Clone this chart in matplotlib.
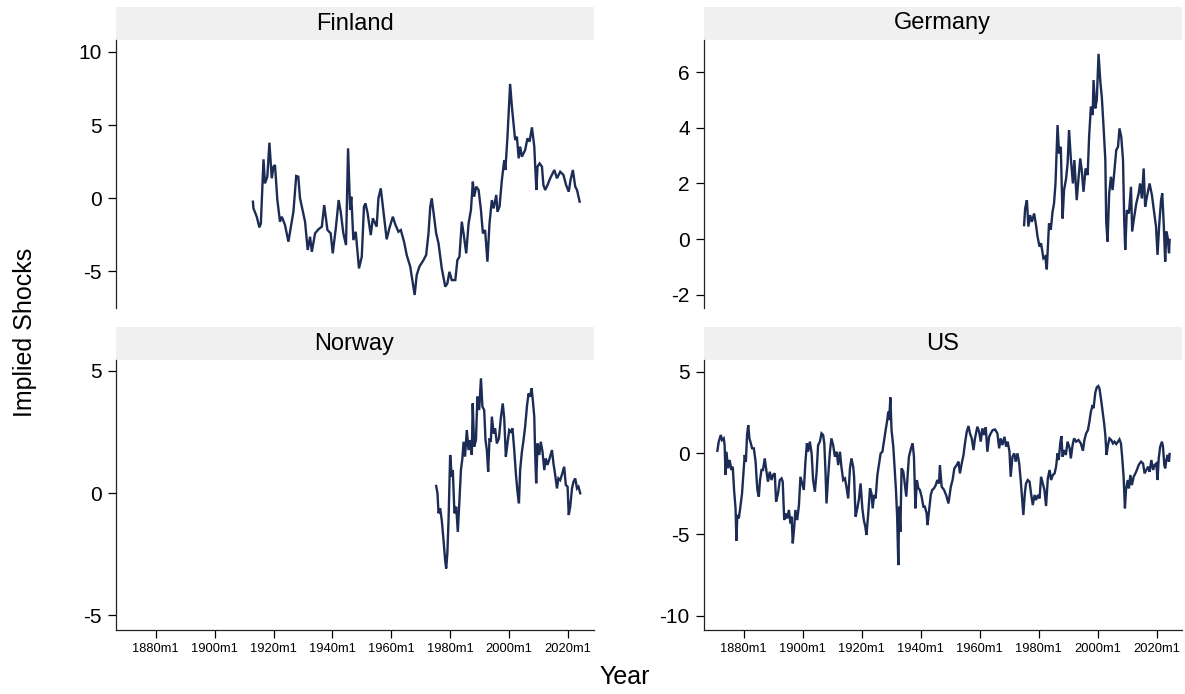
import matplotlib

matplotlib.use("Agg")
import matplotlib.pyplot as plt
from matplotlib.patches import Rectangle

plt.rcParams["font.family"] = ["Liberation Sans", "DejaVu Sans"]

LINE_COLOR = "#1c2c55"
STRIP_COLOR = "#f0f0f0"

# Implied shocks, (decimal year, value) per country.
FIN_YEAR = [
    1913.0, 1913.2, 1914.3, 1915.2, 1915.7, 1916.6, 1917.1, 1917.9, 1918.6, 1919.4,
    1920.0, 1920.5, 1921.3, 1922.2, 1922.8, 1923.9, 1925.05, 1926.75, 1927.7, 1928.4,
    1929.0, 1930.1, 1930.7, 1931.6, 1932.4, 1933.0, 1934.1, 1935.2, 1936.4, 1937.2,
    1938.3, 1939.4, 1940.1, 1941.2, 1942.1, 1942.8, 1943.7, 1944.6, 1945.3, 1946.0,
    1946.4, 1947.1, 1947.9, 1949.0, 1949.95, 1950.7, 1951.2, 1951.9, 1953.0, 1953.7,
    1955.0, 1955.6, 1956.4, 1957.3, 1958.4, 1959.3, 1960.5, 1961.4, 1962.4, 1963.2,
    1964.3, 1965.2, 1966.4, 1967.9, 1968.6, 1969.5, 1970.9, 1971.8, 1972.6, 1973.2,
    1973.7, 1974.5, 1975.2, 1976.0, 1977.1, 1978.3, 1979.0, 1979.7, 1980.5, 1981.7,
    1982.4, 1983.1, 1983.9, 1984.5, 1985.4, 1986.2, 1987.0, 1987.65, 1988.1, 1988.8,
    1989.6, 1990.4, 1991.05, 1991.8, 1992.6, 1993.3, 1994.1, 1994.7, 1995.6, 1996.0,
    1996.7, 1997.5, 1998.3, 1998.7, 1999.4, 2000.3, 2000.9, 2001.5, 2002.0, 2002.6,
    2003.2, 2003.7, 2004.3, 2005.4, 2006.2, 2006.9, 2007.7, 2008.5, 2009.2, 2009.6,
    2010.3, 2011.1, 2011.6, 2012.2, 2013.0, 2013.9, 2015.3, 2016.2, 2017.3, 2018.4,
    2019.3, 2020.2, 2020.8, 2021.6, 2022.4, 2023.0, 2023.9,
]
FIN_SHOCK = [
    -0.25, -0.71, -1.28, -2.01, -1.74, 2.65, 1.0, 1.46, 3.79, 1.35,
    2.15, 2.26, -0.14, -1.62, -1.28, -1.85, -2.99, -0.94, 1.51, 1.46,
    -0.02, -1.05, -1.62, -3.56, -2.65, -3.68, -2.42, -2.15, -1.96, -0.48,
    -2.19, -2.42, -3.79, -1.96, -0.14, -0.94, -2.42, -3.22, 3.4, -0.82,
    0.09, -2.88, -2.31, -4.82, -4.02, -0.59, -0.37, -1.0, -2.54, -1.39,
    -1.96, -0.02, 0.66, -0.94, -2.83, -2.08, -1.28, -1.85, -2.31, -2.19,
    -2.99, -3.9, -4.7, -6.64, -5.27, -4.7, -4.25, -3.9, -2.42, -0.59,
    -0.02, -1.28, -2.42, -3.1, -4.82, -6.07, -5.85, -5.05, -5.62, -5.62,
    -4.25, -4.02, -1.62, -2.42, -3.79, -1.74, -0.82, 1.12, 0.09, 0.78,
    0.55, -0.82, -2.42, -2.19, -4.36, -1.74, -0.14, -0.71, 0.21, -0.94,
    -0.59, 1.23, 2.6, 1.92, 4.2, 7.81, 6.26, 5.0, 3.97, 4.2,
    2.72, 3.52, 2.83, 3.29, 4.09, 3.86, 4.84, 3.52, 0.55, 2.15,
    2.37, 2.15, 0.89, 0.55, 0.89, 1.35, 1.92, 1.35, 1.8, 1.58,
    0.89, 0.43, 1.23, 1.92, 0.78, 0.55, -0.25,
]

GER_YEAR = [
    1975.05, 1975.4, 1976.0, 1976.5, 1977.1, 1977.7, 1978.45, 1979.1, 1979.6, 1980.3,
    1980.8, 1981.6, 1982.2, 1982.75, 1983.5, 1984.1, 1984.7, 1985.2, 1985.7, 1986.4,
    1986.9, 1987.5, 1988.1, 1988.6, 1989.3, 1989.8, 1990.3, 1990.9, 1991.6, 1992.1,
    1992.9, 1993.5, 1994.1, 1994.6, 1995.2, 1995.9, 1996.6, 1997.1, 1997.7, 1998.3,
    1998.6, 1999.2, 1999.7, 2000.3, 2000.9, 2001.4, 2002.0, 2002.6, 2002.9, 2003.35,
    2003.9, 2004.5, 2005.05, 2005.6, 2006.3, 2006.9, 2007.4, 2008.0, 2008.6, 2009.0,
    2009.35, 2009.9, 2010.6, 2011.3, 2011.7, 2012.4, 2013.1, 2013.9, 2014.4, 2015.0,
    2015.6, 2016.1, 2016.7, 2017.6, 2018.4, 2019.2, 2019.8, 2020.3, 2020.9, 2021.5,
    2021.9, 2022.4, 2022.9, 2023.3, 2023.7, 2024.2, 2024.4,
]
GER_SHOCK = [
    0.5, 1.1, 1.4, 0.45, 0.86, 0.62, 0.92, 0.5, 0.09, -0.27,
    -0.15, -0.69, -0.63, -1.09, 0.56, 0.33, 0.98, 1.28, 2.0, 4.1,
    3.08, 3.32, 0.74, 1.76, 2.18, 2.72, 3.92, 2.9, 2.0, 2.84,
    1.4, 2.18, 2.9, 2.48, 1.7, 2.54, 2.3, 3.68, 4.76, 4.46,
    5.72, 4.7, 5.0, 6.66, 5.66, 5.12, 4.04, 2.84, 0.62, -0.09,
    1.64, 2.24, 1.76, 2.36, 3.2, 3.32, 3.98, 3.68, 2.84, 0.68,
    -0.39, 1.04, 0.92, 1.88, 0.27, 0.8, 1.28, 1.64, 2.0, 1.46,
    2.54, 1.16, 1.52, 2.0, 1.58, 0.92, 0.44, -0.57, 0.56, 1.4,
    1.64, 0.56, -0.81, 0.27, 0.09, -0.51, -0.03,
]

NOR_YEAR = [
    1975.2, 1975.65, 1976.0, 1976.55, 1977.1, 1977.7, 1978.25, 1978.6, 1979.0, 1979.4,
    1979.95, 1980.5, 1980.85, 1981.4, 1982.0, 1982.55, 1983.1, 1983.6, 1984.1, 1984.5,
    1985.0, 1985.6, 1986.2, 1986.7, 1987.3, 1987.6, 1988.1, 1988.7, 1989.2, 1989.8,
    1990.4, 1990.9, 1991.5, 1991.95, 1992.4, 1992.85, 1993.3, 1993.75, 1994.1, 1994.7,
    1995.2, 1995.8, 1996.5, 1997.2, 1997.8, 1998.3, 1998.85, 1999.4, 2000.0, 2000.55,
    2001.1, 2001.7, 2002.25, 2002.8, 2003.3, 2003.7, 2004.3, 2004.85, 2005.4, 2006.0,
    2006.55, 2007.1, 2007.6, 2008.0, 2008.5, 2008.8, 2009.15, 2009.6, 2010.2, 2010.7,
    2011.3, 2011.9, 2012.4, 2013.0, 2013.7, 2014.5, 2015.0, 2015.6, 2016.2, 2016.7,
    2017.3, 2018.0, 2018.65, 2019.2, 2019.8, 2020.2, 2020.7, 2021.3, 2021.8, 2022.4,
    2023.0, 2023.5, 2024.1,
]
NOR_SHOCK = [
    0.29, -0.01, -0.83, -0.63, -1.11, -1.93, -2.75, -3.09, -2.47, -1.11,
    1.56, 0.67, 0.94, -0.83, -0.56, -1.59, -0.29, 0.94, 1.42, 2.1,
    1.49, 2.58, 1.76, 2.17, 1.56, 3.67, 1.9, 2.17, 3.95, 3.4,
    4.7, 3.54, 3.4, 2.17, 1.76, 0.87, 2.24, 2.1, 3.13, 2.44,
    2.65, 2.03, 2.24, 3.13, 3.67, 3.06, 1.49, 2.03, 2.58, 2.51,
    2.65, 1.76, 0.8, 0.05, -0.42, 0.94, 1.69, 2.17, 2.72, 3.54,
    4.08, 3.95, 4.29, 3.81, 3.13, 1.63, 0.4, 2.03, 1.56, 2.1,
    1.69, 0.94, 1.42, 1.15, 1.42, 1.76, 1.22, 0.74, 0.19, 0.6,
    0.53, 0.8, 1.08, 0.33, 0.26, -0.9, -0.56, 0.19, 0.46, 0.6,
    0.19, 0.26, -0.01,
]

US_YEAR = [
    1871.04, 1871.5, 1872.2, 1872.6, 1873.2, 1873.5, 1873.8, 1874.1, 1874.7, 1875.2,
    1875.8, 1876.25, 1876.7, 1877.2, 1877.5, 1877.8, 1878.3, 1878.85, 1879.4, 1880.0,
    1880.3, 1880.7, 1881.1, 1881.5, 1881.9, 1882.4, 1882.8, 1883.4, 1884.0, 1884.3,
    1884.6, 1885.1, 1885.5, 1886.0, 1886.5, 1887.1, 1887.7, 1888.2, 1888.8, 1889.4,
    1889.9, 1890.5, 1890.95, 1891.6, 1892.2, 1892.8, 1893.2, 1893.7, 1894.1, 1894.7,
    1895.3, 1895.8, 1896.2, 1896.6, 1897.1, 1897.5, 1898.1, 1898.7, 1899.2, 1899.8,
    1900.35, 1900.9, 1901.4, 1901.8, 1902.4, 1903.0, 1903.5, 1904.1, 1904.7, 1905.2,
    1905.8, 1906.35, 1906.9, 1907.3, 1907.7, 1908.05, 1908.6, 1909.2, 1909.7, 1910.3,
    1910.9, 1911.5, 1912.0, 1912.6, 1913.1, 1913.7, 1914.3, 1914.8, 1915.4, 1916.0,
    1916.5, 1917.1, 1917.4, 1917.9, 1918.5, 1919.0, 1919.6, 1920.2, 1920.7, 1921.2,
    1921.6, 1922.2, 1922.8, 1923.3, 1923.7, 1924.2, 1924.7, 1925.3, 1925.8, 1926.4,
    1927.0, 1927.5, 1928.1, 1928.65, 1929.0, 1929.3, 1929.7, 1930.1, 1930.7, 1931.3,
    1931.6, 1932.0, 1932.4, 1932.7, 1933.1, 1933.5, 1934.1, 1934.7, 1935.1, 1935.6,
    1936.0, 1936.7, 1937.25, 1937.7, 1938.2, 1938.7, 1939.2, 1939.7, 1940.3, 1940.9,
    1941.4, 1942.0, 1942.3, 1942.8, 1943.4, 1943.9, 1944.5, 1945.1, 1945.6, 1946.2,
    1946.5, 1947.1, 1947.9, 1948.6, 1949.4, 1950.2, 1950.8, 1951.4, 1952.2, 1952.8,
    1953.3, 1953.9, 1954.5, 1955.0, 1955.6, 1956.2, 1956.7, 1957.3, 1957.9, 1958.4,
    1959.2, 1959.8, 1960.35, 1960.9, 1961.5, 1962.05, 1962.6, 1963.2, 1963.75, 1964.4,
    1965.2, 1966.0, 1966.6, 1967.1, 1967.7, 1968.4, 1968.95, 1969.5, 1970.1, 1970.5,
    1971.1, 1971.7, 1972.2, 1972.8, 1973.4, 1973.9, 1974.4, 1974.8, 1975.3, 1975.7,
    1976.3, 1976.9, 1977.4, 1978.0, 1978.6, 1979.1, 1979.7, 1980.3, 1980.8, 1981.4,
    1981.95, 1982.5, 1983.1, 1983.7, 1984.2, 1984.8, 1985.4, 1985.9, 1986.4, 1986.8,
    1987.3, 1987.7, 1988.1, 1988.6, 1989.2, 1989.8, 1990.5, 1990.9, 1991.5, 1992.0,
    1992.7, 1993.5, 1994.3, 1995.0, 1995.5, 1996.1, 1996.7, 1997.2, 1997.7, 1998.3,
    1998.6, 1999.2, 1999.7, 2000.2, 2000.6, 2001.1, 2001.7, 2002.2, 2002.6, 2003.0,
    2003.5, 2004.0, 2004.6, 2005.2, 2005.7, 2006.3, 2006.9, 2007.4, 2007.9, 2008.3,
    2008.8, 2009.25, 2009.6, 2010.2, 2010.6, 2011.1, 2011.6, 2012.2, 2012.8, 2013.3,
    2013.9, 2014.7, 2015.4, 2015.9, 2016.5, 2017.1, 2017.6, 2018.2, 2018.8, 2019.3,
    2019.9, 2020.3, 2020.7, 2021.2, 2021.8, 2022.15, 2022.6, 2022.9, 2023.3, 2023.7,
    2024.2, 2024.4,
]
US_SHOCK = [
    0.14, 0.7, 1.11, 0.8, 0.9, 0.49, -1.35, 0.08, -0.94, -0.43,
    -1.04, -0.84, -2.27, -3.4, -5.39, -3.81, -4.02, -3.3, -2.48, -0.94,
    -0.12, -0.53, 1.11, 1.72, 0.9, 0.59, 0.29, 0.29, -0.53, -1.46,
    -2.27, -2.68, -1.66, -1.04, -1.04, -0.33, -1.15, -1.76, -1.15, -1.66,
    -1.35, -1.25, -2.99, -2.48, -1.66, -1.56, -1.76, -4.12, -3.71, -4.02,
    -3.5, -4.32, -3.91, -5.55, -4.53, -3.5, -4.12, -3.2, -1.46, -1.87,
    -2.27, -0.53, 0.59, 0.08, 0.7, -0.02, -1.66, -2.38, -1.15, 0.49,
    0.7, 1.21, 1.11, 0.59, -1.15, -3.1, -1.46, 0.08, 0.9, 0.49,
    -0.23, 0.08, -0.74, 0.08, -0.84, -1.66, -1.56, -2.07, -2.79, -0.94,
    -0.33, -0.84, -1.46, -3.91, -3.4, -2.89, -1.87, -3.4, -4.12, -4.53,
    -5.04, -3.71, -2.17, -2.48, -3.4, -2.58, -2.79, -1.35, -0.74, -0.02,
    0.08, 0.7, 1.41, 2.03, 2.54, 2.03, 3.42, 1.41, 0.39, -1.46,
    -2.27, -3.91, -6.89, -3.3, -4.84, -0.94, -1.15, -2.07, -2.68, -1.25,
    -0.23, 0.29, 0.59, -0.23, -3.4, -1.66, -2.17, -2.27, -2.68, -3.3,
    -3.3, -3.71, -4.43, -3.6, -2.58, -2.27, -2.17, -1.97, -1.66, -1.87,
    -0.74, -2.07, -2.27, -2.58, -3.1, -2.07, -1.66, -0.94, -0.74, -0.53,
    -1.25, -0.64, -0.12, 0.59, 1.31, 1.66, 1.21, 0.9, 0.18, 0.9,
    1.62, 1.31, 0.7, 1.52, 1.11, 1.58, 0.08, 1.0, 1.21, 1.41,
    1.45, 1.21, 0.29, 0.9, 0.49, 1.0, 0.39, 0.7, 0.08, -1.46,
    -0.23, -0.02, -0.53, -0.02, -0.64, -1.66, -2.89, -3.81, -2.48, -1.87,
    -1.66, -1.76, -2.48, -3.2, -2.58, -2.89, -2.58, -2.79, -1.46, -1.87,
    -2.27, -3.26, -1.56, -1.04, -1.66, -1.35, -1.25, -0.84, -0.02, -0.43,
    0.59, 1.04, -0.23, 0.18, -0.12, 0.7, 0.29, -0.33, 0.49, 0.9,
    0.7, 0.8, 0.59, 0.14, 0.8, 1.21, 1.41, 1.93, 2.54, 2.95,
    2.75, 3.71, 4.04, 4.12, 3.97, 3.36, 2.54, 1.82, 1.11, -0.12,
    0.49, 0.9, 0.8, 0.59, 0.7, 0.55, 0.7, 0.84, 0.59, -0.23,
    -1.46, -3.4, -2.27, -1.66, -2.17, -1.35, -1.97, -1.46, -1.25, -1.04,
    -0.74, -0.53, -0.64, -1.25, -1.04, -0.84, -1.15, -0.43, -1.04, -0.74,
    -0.64, -1.66, -0.33, 0.39, 0.7, 0.39, -0.74, -0.94, -0.43, -0.12,
    -0.53, -0.06,
]

X_TICKS = [1880, 1900, 1920, 1940, 1960, 1980, 2000, 2020]
X_LIM = (1866.4, 2028.6)

PANELS = [
    ("Finland", FIN_YEAR, FIN_SHOCK, [-5, 0, 5, 10], (-7.53, 10.82)),
    ("Germany", GER_YEAR, GER_SHOCK, [-2, 0, 2, 4, 6], (-2.48, 7.16)),
    ("Norway", NOR_YEAR, NOR_SHOCK, [-5, 0, 5], (-5.61, 5.45)),
    ("US", US_YEAR, US_SHOCK, [-10, -5, 0, 5], (-10.88, 5.72)),
]

# axes boxes in pixels of the 1185x694 canvas: left, right, top, bottom
BOXES = [
    (115.6, 593.5, 40, 308),
    (703.7, 1182.0, 40, 308),
    (115.6, 593.5, 360, 630),
    (703.7, 1182.0, 360, 630),
]
W, H = 1185, 694
STRIP_PX = 33


def draw_panel(fig, box, name, years, shocks, yticks, ylim, bottom_row):
    left, right, top, bottom = box
    ax = fig.add_axes([left / W, 1 - bottom / H, (right - left) / W, (bottom - top) / H])
    ax.plot(years, shocks, color=LINE_COLOR, linewidth=1.7, solid_joinstyle="miter")

    ax.set_xlim(*X_LIM)
    ax.set_ylim(*ylim)
    ax.set_yticks(yticks)
    ax.set_yticklabels([str(t) for t in yticks])
    ax.tick_params(axis="y", direction="out", length=6, width=0.9, pad=4, labelsize=15)

    for side in ("top", "right"):
        ax.spines[side].set_visible(False)
    ax.spines["left"].set_linewidth(0.9)
    ax.spines["left"].set_color("#222222")

    if bottom_row:
        ax.set_xticks(X_TICKS)
        ax.set_xticklabels([f"{y}m1" for y in X_TICKS])
        ax.tick_params(axis="x", direction="out", length=5.5, width=0.9, pad=4, labelsize=9.3)
        ax.spines["bottom"].set_linewidth(0.9)
        ax.spines["bottom"].set_color("#222222")
    else:
        ax.spines["bottom"].set_visible(False)
        ax.set_xticks([])

    strip_h = STRIP_PX / (bottom - top)
    ax.add_patch(
        Rectangle((0, 1), 1, strip_h, transform=ax.transAxes, clip_on=False,
                  facecolor=STRIP_COLOR, edgecolor="none")
    )
    ax.text(0.5, 1 + strip_h / 2, name, transform=ax.transAxes,
            ha="center", va="center", fontsize=17)
    return ax


def main():
    fig = plt.figure(figsize=(W / 100, H / 100), dpi=100)
    for i, (box, panel) in enumerate(zip(BOXES, PANELS)):
        name, years, shocks, yticks, ylim = panel
        draw_panel(fig, box, name, years, shocks, yticks, ylim, bottom_row=i >= 2)

    fig.text(0.021, 0.521, "Implied Shocks", rotation=90, ha="center", va="center", fontsize=18)
    fig.text(0.527, 0.025, "Year", ha="center", va="center", fontsize=18)

    fig.savefig("out.png", dpi=100)


if __name__ == "__main__":
    main()
